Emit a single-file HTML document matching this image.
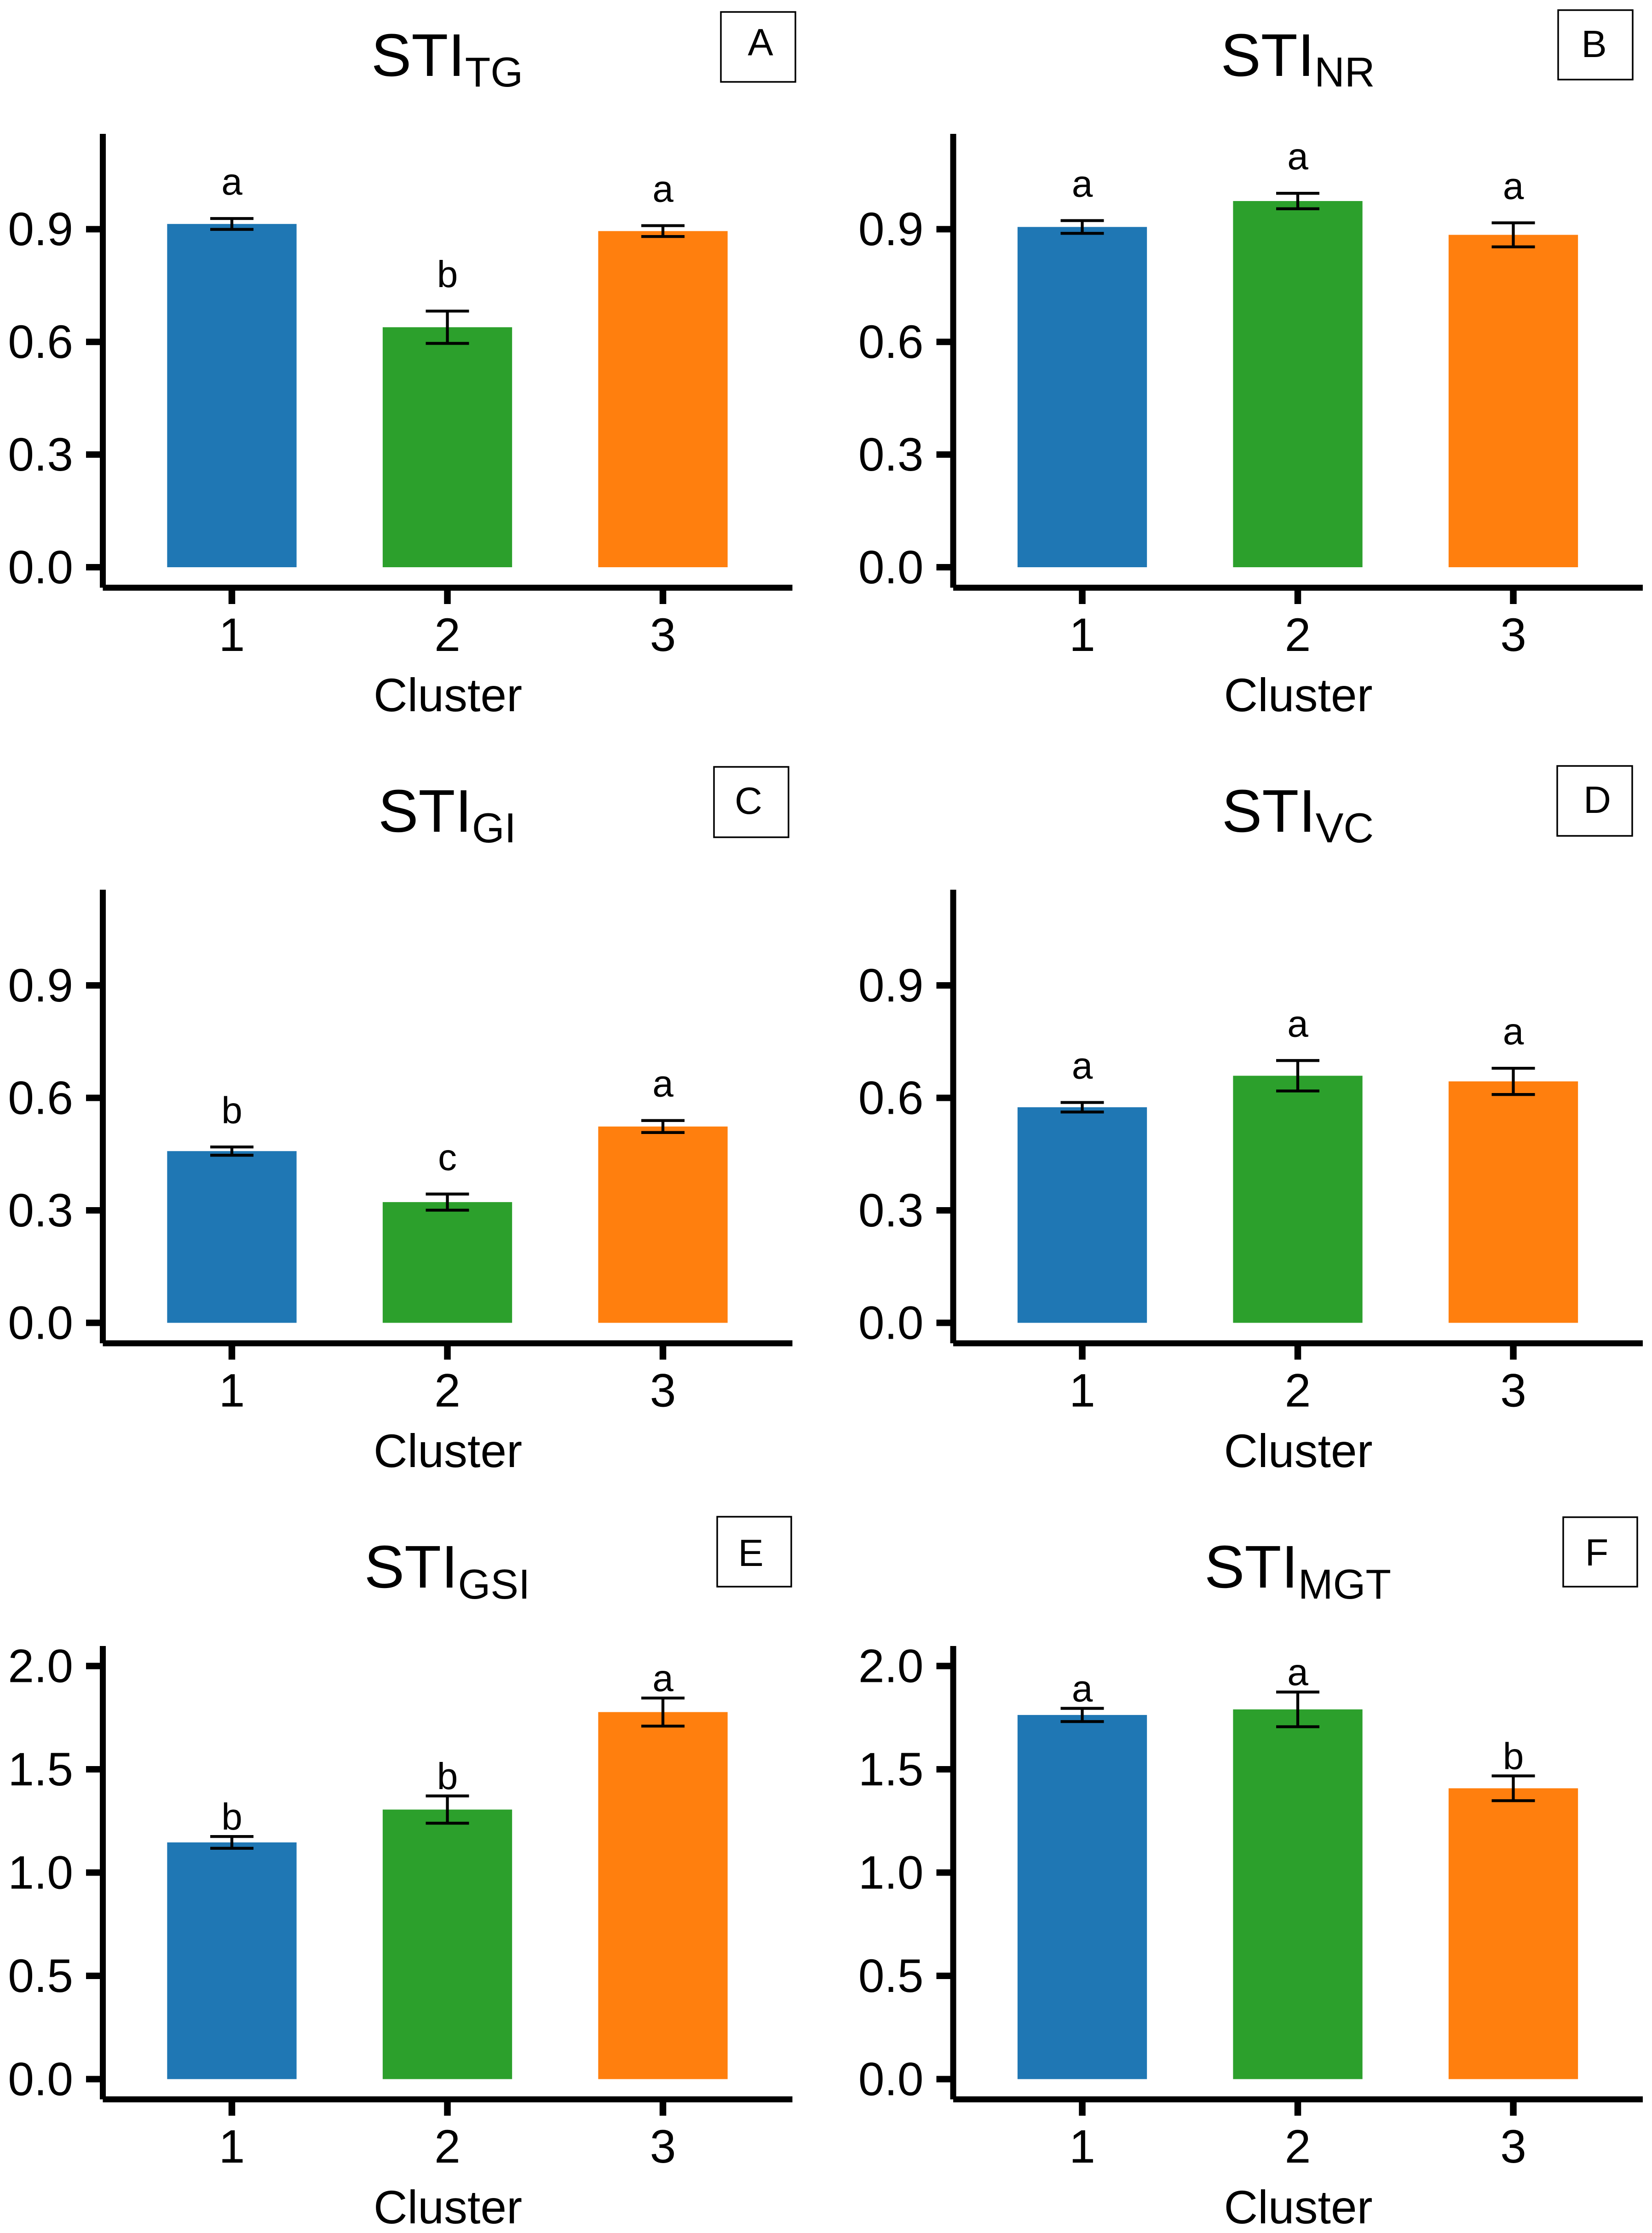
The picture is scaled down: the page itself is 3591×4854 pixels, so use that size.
<!DOCTYPE html>
<html lang="en">
<head>
<meta charset="utf-8">
<title>STI by cluster</title>
<style>
html,body{margin:0;padding:0;background:#fff;}
svg{display:block;}
text{font-family:"Liberation Sans",Arial,sans-serif;fill:#000;}
.title{font-size:131px;}
.sub{font-size:91px;}
.tag{font-size:83px;text-anchor:middle;}
.xtitle{font-size:102px;text-anchor:middle;}
.tick{font-size:102px;}
.sig{font-size:82px;text-anchor:middle;}
.tagbox{fill:#fff;stroke:#000;stroke-width:3.5;}
</style>
</head>
<body>
<svg id="figure" xmlns="http://www.w3.org/2000/svg" width="3591" height="4854" viewBox="0 0 3591 4854">
  <rect x="0" y="0" width="3591" height="4854" fill="#fff"/>

  <g id="panel-a">
    <text class="title" x="972" y="165" text-anchor="middle">STI<tspan class="sub" dy="23">TG</tspan></text>
    <rect class="tagbox" x="1567" y="26" width="162" height="152"/>
    <text class="tag" x="1653" y="120">A</text>
    <text class="xtitle" x="973.5" y="1546">Cluster</text>
  </g>
  <g id="panel-b">
    <text class="title" x="2821" y="165" text-anchor="middle">STI<tspan class="sub" dy="23">NR</tspan></text>
    <rect class="tagbox" x="3387" y="22" width="162" height="151"/>
    <text class="tag" x="3465" y="124">B</text>
    <text class="xtitle" x="2822" y="1546">Cluster</text>
  </g>
  <g id="panel-c">
    <text class="title" x="972" y="1808" text-anchor="middle">STI<tspan class="sub" dy="23">GI</tspan></text>
    <rect class="tagbox" x="1552" y="1667" width="162" height="153"/>
    <text class="tag" x="1627" y="1769">C</text>
    <text class="xtitle" x="973.5" y="3189">Cluster</text>
  </g>
  <g id="panel-d">
    <text class="title" x="2821" y="1808" text-anchor="middle">STI<tspan class="sub" dy="23">VC</tspan></text>
    <rect class="tagbox" x="3385" y="1665" width="163" height="152"/>
    <text class="tag" x="3472" y="1767">D</text>
    <text class="xtitle" x="2822" y="3189">Cluster</text>
  </g>
  <g id="panel-e">
    <text class="title" x="972" y="3451" text-anchor="middle">STI<tspan class="sub" dy="24">GSI</tspan></text>
    <rect class="tagbox" x="1559" y="3297" width="161" height="152"/>
    <text class="tag" x="1632" y="3404">E</text>
    <text class="xtitle" x="973.5" y="4833">Cluster</text>
  </g>
  <g id="panel-f">
    <text class="title" x="2821" y="3451" text-anchor="middle">STI<tspan class="sub" dy="24">MGT</tspan></text>
    <rect class="tagbox" x="3398" y="3298" width="161" height="151"/>
    <text class="tag" x="3471" y="3403">F</text>
    <text class="xtitle" x="2822" y="4833">Cluster</text>
  </g>
</svg>

<script>
// Data
const categories = ['1', '2', '3'];
const barColors = ['#1f77b4', '#2ca02c', '#ff7f0e'];

const ticksUpper = [0.0, 0.3, 0.6, 0.9];
const ticksLower = [0.0, 0.5, 1.0, 1.5, 2.0];

const meansA = [0.914, 0.639, 0.895];
const errorsA = [0.0145, 0.043, 0.0145];
const lettersA = ['a', 'b', 'a'];

const meansB = [0.906, 0.975, 0.885];
const errorsB = [0.017, 0.0206, 0.032];
const lettersB = ['a', 'a', 'a'];

const meansC = [0.458, 0.322, 0.5236];
const errorsC = [0.011, 0.0215, 0.016];
const lettersC = ['b', 'c', 'a'];

const meansD = [0.575, 0.659, 0.644];
const errorsD = [0.0127, 0.0406, 0.035];
const lettersD = ['a', 'a', 'a'];

const meansE = [1.146, 1.305, 1.777];
const errorsE = [0.0285, 0.066, 0.068];
const lettersE = ['b', 'b', 'a'];

const meansF = [1.763, 1.79, 1.408];
const errorsF = [0.032, 0.084, 0.06];
const lettersF = ['a', 'a', 'b'];

// Panel definitions: geometry is separate from the data arrays above
const panels = [
  {id:'a', means:meansA, errors:errorsA, letters:lettersA, ticks:ticksUpper, digits:1, left:223.5, base:1233,   unit:816.4, top:291,  axisY:1277.5, gap:52},
  {id:'b', means:meansB, errors:errorsB, letters:lettersB, ticks:ticksUpper, digits:1, left:2072,  base:1233,   unit:816.4, top:291,  axisY:1277.5, gap:52},
  {id:'c', means:meansC, errors:errorsC, letters:lettersC, ticks:ticksUpper, digits:1, left:223.5, base:2875.5, unit:815,   top:1934, axisY:2920,   gap:52},
  {id:'d', means:meansD, errors:errorsD, letters:lettersD, ticks:ticksUpper, digits:1, left:2072,  base:2875.5, unit:815,   top:1934, axisY:2920,   gap:52},
  {id:'e', means:meansE, errors:errorsE, letters:lettersE, ticks:ticksLower, digits:1, left:223.5, base:4519.5, unit:449,   top:3578, axisY:4563.5, gap:15},
  {id:'f', means:meansF, errors:errorsF, letters:lettersF, ticks:ticksLower, digits:1, left:2072,  base:4519.5, unit:449,   top:3578, axisY:4563.5, gap:15}
];

const NS = 'http://www.w3.org/2000/svg';
const BAR_WIDTH = 281.3;
const CAP_WIDTH = 94;
const AXIS_LENGTH = 1499;
const BAND_START = 280.5;
const BAND_STEP = 468.5;
const ERROR_STROKE = 6.3;

function xScale(panel, index) {
  return panel.left + BAND_START + index * BAND_STEP;
}
function yScale(panel, value) {
  return panel.base - value * panel.unit;
}
function shape(tag, parent, attrs) {
  const el = document.createElementNS(NS, tag);
  for (const key in attrs) {
    el.setAttribute(key, attrs[key]);
  }
  parent.appendChild(el);
  return el;
}

panels.forEach(function (panel) {
  const group = document.getElementById('panel-' + panel.id);

  // Bars and error bars
  categories.forEach(function (category, i) {
    const cx = xScale(panel, i);
    const value = panel.means[i];
    const err = panel.errors[i];
    const topY = yScale(panel, value);
    const upperY = yScale(panel, value + err);
    const lowerY = yScale(panel, value - err);

    const bar = shape('rect', group, {x: cx - BAR_WIDTH / 2, y: topY, width: BAR_WIDTH, height: panel.base - topY, fill: barColors[i]});
    
    

    const stem = shape('line', group, {x1: cx, x2: cx, y1: upperY, y2: lowerY, stroke: '#000', 'stroke-width': ERROR_STROKE});
    
    

    const capTop = shape('line', group, {x1: cx - CAP_WIDTH / 2, x2: cx + CAP_WIDTH / 2, y1: upperY, y2: upperY, stroke: '#000', 'stroke-width': ERROR_STROKE});
    
    

    const capBottom = shape('line', group, {x1: cx - CAP_WIDTH / 2, x2: cx + CAP_WIDTH / 2, y1: lowerY, y2: lowerY, stroke: '#000', 'stroke-width': ERROR_STROKE});
    
    

    const letter = shape('text', group, {class: 'sig', x: cx, y: upperY - panel.gap});
    
    
    letter.textContent = panel.letters[i];

    const xTick = shape('rect', group, {x: cx - 7.25, y: panel.axisY, width: 14.5, height: 35.5, fill: '#000'});
    
    

    const xLabel = shape('text', group, {class: 'tick', x: cx, y: panel.axisY + 137.5, 'text-anchor': 'middle'});
    
    
    xLabel.textContent = category;
  });

  // Y axis ticks
  panel.ticks.forEach(function (tick) {
    const ty = yScale(panel, tick);

    const yTick = shape('rect', group, {x: panel.left - 36.5, y: ty - 7, width: 36.5, height: 14, fill: '#000'});
    
    

    const yLabel = shape('text', group, {class: 'tick', x: panel.left - 64.5, y: ty + 35, 'text-anchor': 'end'});
    
    
    yLabel.textContent = tick.toFixed(panel.digits);
  });

  // Axis lines
  const yAxis = shape('rect', group, {x: panel.left - 6.5, y: panel.top, width: 13, height: panel.axisY - panel.top, fill: '#000'});
  
  

  const xAxis = shape('rect', group, {x: panel.left, y: panel.axisY - 6.5, width: AXIS_LENGTH, height: 13, fill: '#000'});
  
  
});
</script>
</body>
</html>
